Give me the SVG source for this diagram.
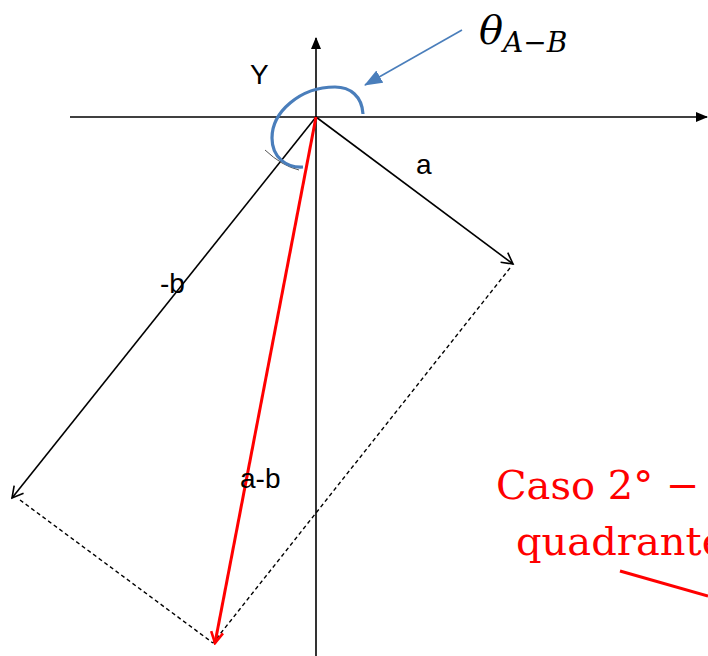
<svg xmlns="http://www.w3.org/2000/svg" width="708" height="656" viewBox="0 0 708 656">
<defs>
<style>
.ax{stroke:#000;stroke-width:1.6;fill:none}
.vec{stroke:#000;stroke-width:1.6;fill:none}
.dash{stroke:#000;stroke-width:1.4;stroke-dasharray:4 3;fill:none}
.lbl{font-family:"Liberation Sans",Arial,sans-serif;font-size:28px;fill:#000}
.cap{font-family:"DejaVu Serif","Liberation Serif",serif;font-size:40px;fill:#ff0000}
.math{font-family:"DejaVu Serif","Liberation Serif",serif;font-style:italic;fill:#000}
</style>
<marker id="axh" markerWidth="12" markerHeight="10" refX="11" refY="5" orient="auto" markerUnits="userSpaceOnUse">
<path d="M0,0 L12,5 L0,10 Z" fill="#000"/>
</marker>
<marker id="vh" markerWidth="14" markerHeight="14" refX="12" refY="7" orient="auto" markerUnits="userSpaceOnUse">
<path d="M1,1 L12,7 L1,13" fill="none" stroke="#000" stroke-width="1.6"/>
</marker>
<marker id="rh" markerWidth="14" markerHeight="14" refX="12" refY="7" orient="auto" markerUnits="userSpaceOnUse">
<path d="M1,1 L12,7 L1,13" fill="none" stroke="#ff0000" stroke-width="2.6"/>
</marker>
<marker id="bh" markerWidth="18" markerHeight="14" refX="17" refY="7" orient="auto" markerUnits="userSpaceOnUse">
<path d="M0,0 L18,7 L0,14 Z" fill="#4a7ebb"/>
</marker>
</defs>
<g id="connectors">
<line class="ax" x1="70" y1="117" x2="707" y2="117" marker-end="url(#axh)"/>
<line class="ax" x1="316" y1="656" x2="316" y2="38" marker-end="url(#axh)"/>
<line class="vec" x1="316" y1="117" x2="513" y2="264" marker-end="url(#vh)"/>
<line class="vec" x1="316" y1="117" x2="12" y2="498" marker-end="url(#vh)"/>
<line class="dash" x1="20" y1="500" x2="213" y2="643"/>
<line class="dash" x1="510" y1="268" x2="213" y2="643"/>
<line x1="316" y1="117" x2="215" y2="643" stroke="#ff0000" stroke-width="3" marker-end="url(#rh)"/>
<line x1="462" y1="30" x2="365" y2="85" stroke="#4a7ebb" stroke-width="1.6" marker-end="url(#bh)"/>
<path d="M265,150 Q282,166 299,170" fill="none" stroke="#555" stroke-width="1"/>
<path d="M363,114 C362,96 350,87 335,87 C300,87 272,112 272,138 C272,158 287,168 303,167" fill="none" stroke="#4a7ebb" stroke-width="3.2"/>
<line x1="620" y1="571" x2="708" y2="596" stroke="#ff0000" stroke-width="3"/>
</g>
<g id="labels">
<text class="lbl" x="250" y="84">Y</text>
<text class="lbl" x="416" y="174">a</text>
<text class="lbl" x="160" y="293">-b</text>
<text class="lbl" x="240" y="488">a-b</text>
<text class="math" x="479" y="44" font-size="40">θ<tspan font-size="28" dy="8">A−B</tspan></text>
<text class="cap" x="496" y="499">Caso 2° − 3°</text>
<text class="cap" x="516" y="555">quadrante</text>
</g>
</svg>
